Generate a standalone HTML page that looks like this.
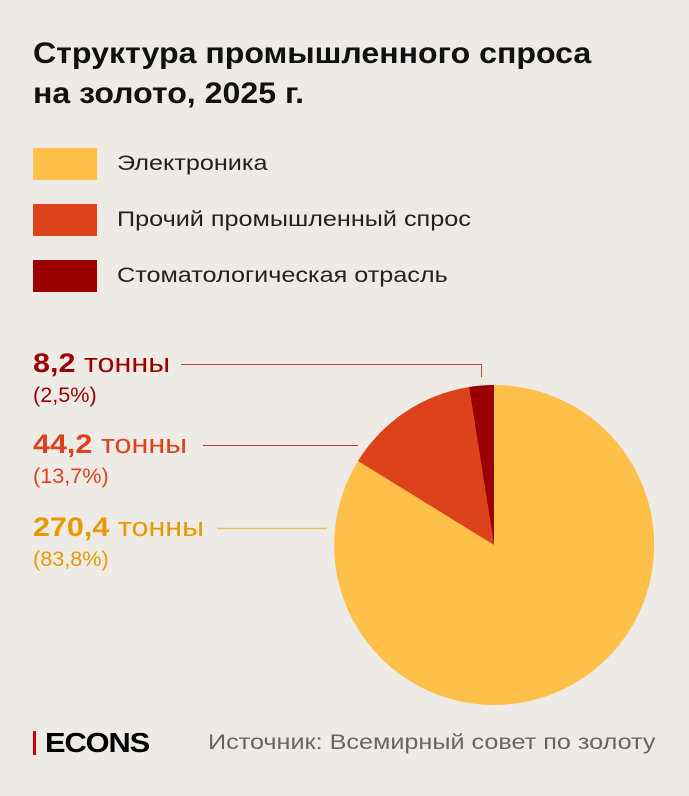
<!DOCTYPE html>
<html><head><meta charset="utf-8"><style>
body{margin:0;width:689px;height:796px;background:#eeebe6;font-family:"Liberation Sans",sans-serif;position:relative;overflow:hidden}
.a{position:absolute;white-space:nowrap;transform-origin:0 50%}
.t{left:33px;font-weight:bold;font-size:30px;color:#111;line-height:40px;transform:scaleX(1.07)}
.box{position:absolute;left:33px;width:64px;height:32px}
.lg{left:117px;font-size:21px;color:#222;transform:scaleX(1.2)}
.v{font-size:27px;left:33px;transform:scaleX(1.13)}
.v b{font-weight:bold}
.p{font-size:21px;left:33px;transform:scaleX(1.03)}
</style></head><body>
<div class="a t" style="top:34px">Структура промышленного спроса</div>
<div class="a t" style="top:74px">на золото, 2025 г.</div>
<div class="box" style="top:148px;background:#ffc04a"></div>
<div class="a lg" style="top:152px">Электроника</div>
<div class="box" style="top:204px;background:#dd431b"></div>
<div class="a lg" style="top:208px">Прочий промышленный спрос</div>
<div class="box" style="top:260px;background:#9b0000"></div>
<div class="a lg" style="top:264px">Стоматологическая отрасль</div>

<div class="a v" style="top:348px;color:#9b0000"><b>8,2</b> тонны</div>
<div class="a p" style="top:384px;color:#9b0000">(2,5%)</div>
<div class="a v" style="top:429px;color:#dd431b"><b>44,2</b> тонны</div>
<div class="a p" style="top:465px;color:#dd431b">(13,7%)</div>
<div class="a v" style="top:512px;color:#e69a00"><b>270,4</b> тонны</div>
<div class="a p" style="top:548px;color:#e69a00">(83,8%)</div>

<svg class="a" style="left:0;top:0" width="689" height="796">
<path d="M494,545 L494,385 A160,160 0 1,1 358,461 Z" fill="#ffc04a"/>
<path d="M494,545 L358,461 A160,160 0 0,1 469,387 Z" fill="#dd431b"/>
<path d="M494,545 L469,387 A160,160 0 0,1 494,385 Z" fill="#9b0000"/>
<polyline points="181,364.5 481.5,364.5 481.5,377" fill="none" stroke="#c8423a" stroke-width="1"/>
<line x1="203" y1="445.5" x2="358" y2="445.5" stroke="#c0392b" stroke-width="1"/>
<line x1="217" y1="528.5" x2="327" y2="528.5" stroke="#f0c060" stroke-width="1.5"/>
<rect x="33" y="731" width="3" height="24" fill="#d00000"/>
</svg>
<div class="a" style="left:45px;top:727px;font-size:28px;font-weight:bold;color:#000;letter-spacing:-1px;transform:scaleX(1.1)">ECONS</div>
<div class="a" style="left:208px;top:731px;font-size:21px;color:#666;transform:scaleX(1.2)">Источник: Всемирный совет по золоту</div>
</body></html>
